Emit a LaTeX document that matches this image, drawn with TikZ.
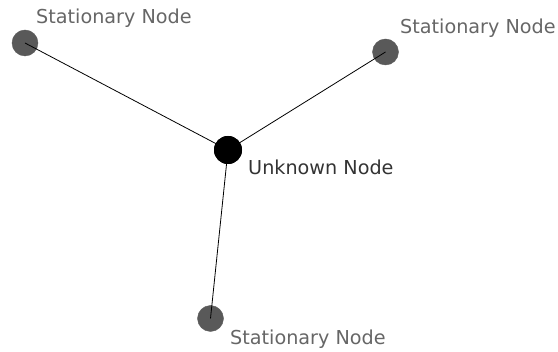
\documentclass[tikz,border=0pt]{standalone}
\usepackage{fontspec}
\setmainfont{DejaVu Sans}
\begin{document}
\begin{tikzpicture}[x=1pt,y=-1pt,
  stat/.style={circle,fill=stgray,draw=stgray,minimum size=26pt,inner sep=0pt},
  unk/.style={circle,fill=black,minimum size=28pt,inner sep=0pt},
  lbl/.style={anchor=base west,inner sep=0pt,font=\fontsize{19.2}{22}\selectfont},
  link/.style={draw=black,line width=0.8pt}]
\definecolor{stgray}{HTML}{595959}
\definecolor{lblgray}{HTML}{666666}
\definecolor{unkgray}{HTML}{333333}
\useasboundingbox (0,0) rectangle (558,352);
\node[stat] (a) at (25,43) {};
\node[stat] (b) at (385.5,52) {};
\node[stat] (c) at (210.5,318.5) {};
\node[unk] (u) at (228,150) {};
\draw[link] (u.center) -- (a.center);
\draw[link] (u.center) -- (b.center);
\draw[link] (u.center) -- (c.center);
\node[unk] at (u) {};
\node[lbl,text=lblgray] (la) at (36,24) {Stationary Node};
\node[lbl,text=lblgray] (lb) at (400,34) {Stationary Node};
\node[lbl,text=unkgray] (lu) at (248,175) {Unknown Node};
\node[lbl,text=lblgray] (lc) at (230,345) {Stationary Node};
\end{tikzpicture}
\end{document}
